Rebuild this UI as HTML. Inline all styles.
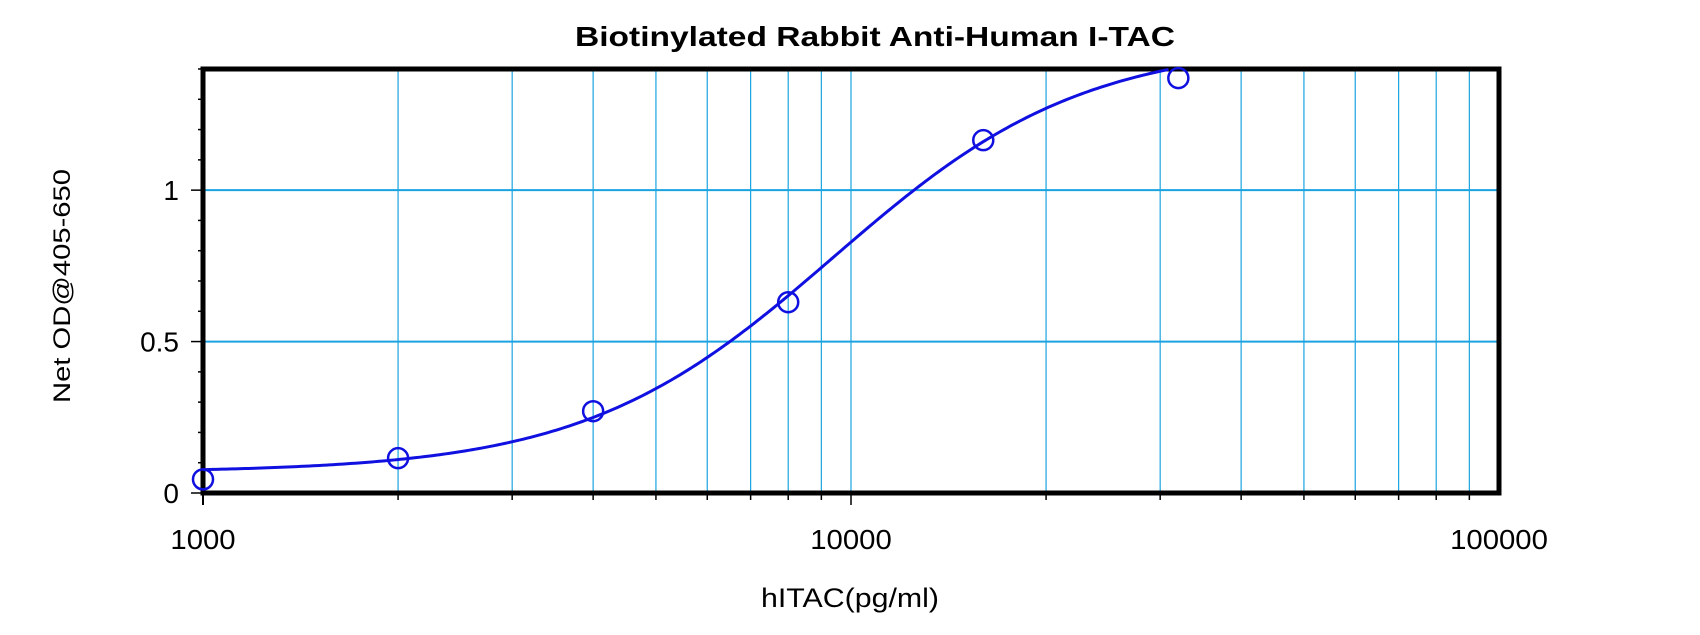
<!DOCTYPE html>
<html><head><meta charset="utf-8"><style>
html,body{margin:0;padding:0;background:#fff}
svg{display:block;font-family:"Liberation Sans",Arial,sans-serif}
</style></head><body>
<svg id="chart" width="1700" height="635" viewBox="0 0 1700 635">
<text x="875" y="46" text-anchor="middle" font-size="28" font-weight="bold" textLength="600" lengthAdjust="spacingAndGlyphs">Biotinylated Rabbit Anti-Human I-TAC</text>
<text x="850" y="607" text-anchor="middle" font-size="27" textLength="178" lengthAdjust="spacingAndGlyphs">hITAC(pg/ml)</text>
<text transform="translate(70,286) rotate(-90)" text-anchor="middle" font-size="24" textLength="234" lengthAdjust="spacingAndGlyphs">Net OD@405-650</text>
<g id="grid"></g><g id="axes"></g><g id="series"></g>
</svg>
<script>
const xConc = [1000, 2000, 4000, 8000, 16000, 32000];
const yOD = [0.045, 0.115, 0.27, 0.63, 1.165, 1.37];
const fitBottom = 0.068, fitTop = 1.49, fitEC50 = 9400, fitHill = 2.25;
const xTicks = [1000, 10000, 100000];
const xTickLabels = ["1000", "10000", "100000"];
const yTicks = [0, 0.5, 1];
const yTickLabels = ["0", "0.5", "1"];

const L=203,R=1499,T=69,B=493,XMIN=1000,XMAX=100000,YMIN=0,YMAX=1.4;
const NS="http://www.w3.org/2000/svg";
const xs=v=>L+(Math.log10(v)-Math.log10(XMIN))/(Math.log10(XMAX)-Math.log10(XMIN))*(R-L);
const ys=v=>B-(v-YMIN)/(YMAX-YMIN)*(B-T);
function mk(tag,attrs,parent){const e=document.createElementNS(NS,tag);for(const k in attrs)e.setAttribute(k,attrs[k]);parent.appendChild(e);return e;}
const grid=document.getElementById('grid'),axes=document.getElementById('axes'),series=document.getElementById('series');
for(let d=1000;d<XMAX;d*=10){for(let m=1;m<10;m++){const v=d*m;if(v<=XMIN)continue;const x=xs(v);
const g=mk('line',{x1:x,x2:x,y1:T,y2:B,stroke:'#1aa3e0','stroke-width':1.2},grid);


const t=mk('line',{x1:x,x2:x,y1:B,y2:B+(m===1?12:7),stroke:'#000','stroke-width':1.5},axes);

}}
const t0=mk('line',{x1:L,x2:L,y1:B,y2:B+12,stroke:'#000','stroke-width':2},axes);


yTicks.forEach((v,i)=>{const y=ys(v);
if(v>0){const g=mk('line',{x1:L,x2:R,y1:y,y2:y,stroke:'#1aa3e0','stroke-width':2},grid);

}
const t=mk('text',{x:L-24,y:y+10,'text-anchor':'end','font-size':28},axes);t.textContent=yTickLabels[i];

});
for(let k=0;k<=14;k++){const v=k*0.1;const y=ys(v);const big=(k%5===0);
const t=mk('line',{x1:L-(big?12:5),x2:L,y1:y,y2:y,stroke:'#000','stroke-width':1.5},axes);

}
xTicks.forEach((v,i)=>{const t=mk('text',{x:xs(v),y:B+56,'text-anchor':'middle','font-size':28,textLength:xTickLabels[i].length*16.3,lengthAdjust:'spacingAndGlyphs'},axes);t.textContent=xTickLabels[i];

});
const frame=mk('rect',{x:L,y:T,width:R-L,height:B-T,fill:'none',stroke:'#000','stroke-width':5},axes);


let d='';const lmin=Math.log10(XMIN),lmax=Math.log10(XMAX);
for(let i=0;i<=400;i++){const lx=lmin+(lmax-lmin)*i/400;const x=Math.pow(10,lx);const r=Math.pow(x/fitEC50,fitHill);
const y=fitBottom+(fitTop-fitBottom)*r/(1+r);if(y>YMAX)break;d+=(i?'L':'M')+xs(x).toFixed(2)+','+ys(y).toFixed(2);}
const c=mk('path',{d:d,fill:'none',stroke:'#1010e0','stroke-width':3},series);


xConc.forEach((v,i)=>{const p=mk('circle',{cx:xs(v),cy:ys(yOD[i]),r:10,fill:'none',stroke:'#1010e0','stroke-width':2.5},series);

});
</script>
</body></html>
